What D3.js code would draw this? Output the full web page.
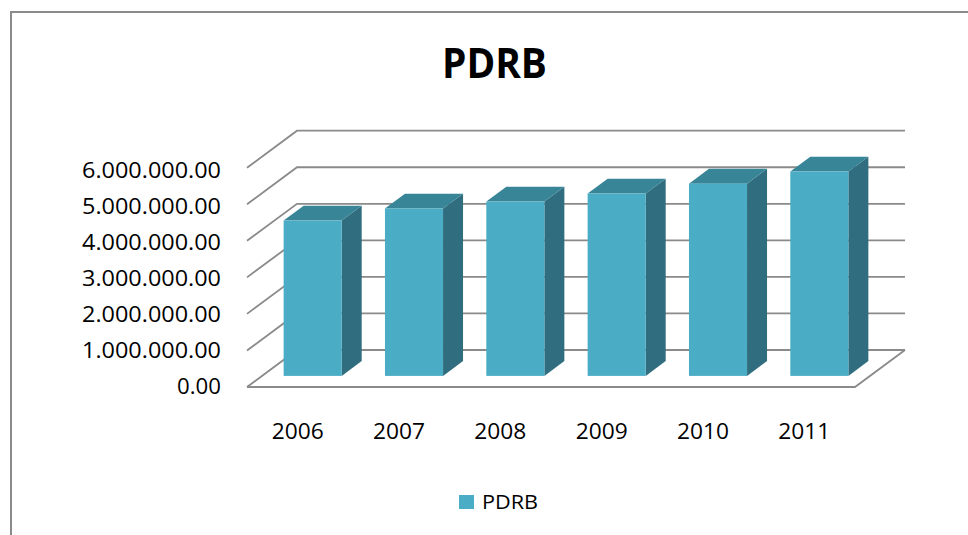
<!DOCTYPE html>
<html>
<head>
<meta charset="utf-8">
<script src="https://cdn.jsdelivr.net/npm/d3@7"></script>
<style>
  html, body { margin: 0; padding: 0; background: #fff; }
  svg { display: block; }
  text { font-family: "Open Sans", "Liberation Sans", sans-serif; fill: #000; }
</style>
</head>
<body>
<svg id="chart" width="968" height="535"></svg>
<script>
// ---- data ----
const categories = ["2006", "2007", "2008", "2009", "2010", "2011"];
const pdrbValues = [4250000, 4580000, 4770000, 4990000, 5260000, 5590000];
const tickValues = [0, 1000000, 2000000, 3000000, 4000000, 5000000, 6000000];
const tickLabels = ["0.00", "1.000.000.00", "2.000.000.00", "3.000.000.00", "4.000.000.00", "5.000.000.00", "6.000.000.00"];
const seriesName = "PDRB";
const titleText = "PDRB";

// ---- layout ----
const W = 968, H = 535;
const floorLeft = 247, floorRight = 855, floorFront = 387;
const depth = { dx: 50, dy: -37 };          // oblique depth vector of the plot box
const barDepthStart = 0.3, barDepthEnd = 0.7; // bar position inside the depth
const barWidthRatio = 0.573;

const colors = {
  front: "#4BACC6",
  top: "#388598",
  side: "#306D7E",
  grid: "#8a8a8a",
  frame: "#8a8a8a"
};

const svg = d3.select("#chart");

// frame
svg.append("rect")
  .attr("x", 11).attr("y", 12)
  .attr("width", 1000).attr("height", 600)
  .attr("fill", "#fff")
  .attr("stroke", colors.frame).attr("stroke-width", 2);

// scales
const y = d3.scaleLinear().domain([0, 6000000]).range([floorFront, 167.7]);
const yLabel = d3.scaleLinear().domain([0, 6000000]).range([394.3, 178.3]);
const x = d3.scaleBand().domain(categories).range([floorLeft, floorRight]).padding(0);

// ---- gridlines (left wall + back wall) ----
const grid = svg.append("g").attr("fill", "none")
  .attr("stroke", colors.grid).attr("stroke-width", 1.8);

tickValues.forEach(v => {
  const p = d3.path();
  p.moveTo(floorLeft, y(v));
  p.lineTo(floorLeft + depth.dx, y(v) + depth.dy);
  p.lineTo(floorRight + depth.dx, y(v) + depth.dy);
  grid.append("path").attr("d", p.toString());
});
// floor front + right edge
{
  const p = d3.path();
  p.moveTo(floorLeft, y(0));
  p.lineTo(floorRight, y(0));
  p.lineTo(floorRight + depth.dx, y(0) + depth.dy);
  grid.append("path").attr("d", p.toString());
}

// ---- bars ----
const bw = x.bandwidth() * barWidthRatio;
const fdx = depth.dx * barDepthStart, fdy = depth.dy * barDepthStart;
const bdx = depth.dx * (barDepthEnd - barDepthStart), bdy = depth.dy * (barDepthEnd - barDepthStart);

const bars = svg.append("g");
categories.forEach((c, i) => {
  const v = pdrbValues[i];
  const cx = x(c) + x.bandwidth() / 2 + fdx;
  const x0 = cx - bw / 2, x1 = cx + bw / 2;
  const yb = y(0) + fdy, yt = y(v) + fdy;
  const g = bars.append("g");
  // side
  g.append("path")
    .attr("d", `M${x1},${yb} L${x1 + bdx},${yb + bdy} L${x1 + bdx},${yt + bdy} L${x1},${yt} Z`)
    .attr("fill", colors.side);
  // top
  g.append("path")
    .attr("d", `M${x0},${yt} L${x1},${yt} L${x1 + bdx},${yt + bdy} L${x0 + bdx},${yt + bdy} Z`)
    .attr("fill", colors.top);
  // front
  g.append("rect")
    .attr("x", x0).attr("y", yt)
    .attr("width", bw).attr("height", yb - yt)
    .attr("fill", colors.front);
});

// ---- y axis labels ----
svg.append("g").selectAll("text")
  .data(tickValues)
  .join("text")
  .attr("x", 221)
  .attr("y", d => yLabel(d))
  .attr("text-anchor", "end")
  .attr("font-size", 21)
  .attr("textLength", (d, i) => tickLabels[i].length > 4 ? 139 : 44)
  .attr("lengthAdjust", "spacingAndGlyphs")
  .text((d, i) => tickLabels[i]);

// ---- category labels ----
svg.append("g").selectAll("text")
  .data(categories)
  .join("text")
  .attr("x", d => x(d) + x.bandwidth() / 2)
  .attr("y", 438.5)
  .attr("text-anchor", "middle")
  .attr("font-size", 22)
  .attr("textLength", 52)
  .attr("lengthAdjust", "spacingAndGlyphs")
  .text(d => d);

// ---- title ----
svg.append("text")
  .attr("x", 494.5).attr("y", 78)
  .attr("text-anchor", "middle")
  .attr("font-size", 42).attr("font-weight", "bold")
  .attr("textLength", 105)
  .attr("lengthAdjust", "spacingAndGlyphs")
  .text(titleText);

// ---- legend ----
const lg = svg.append("g");
lg.append("rect")
  .attr("x", 459).attr("y", 495)
  .attr("width", 15).attr("height", 14)
  .attr("fill", colors.front);
lg.append("text")
  .attr("x", 482).attr("y", 509)
  .attr("font-size", 20)
  .attr("textLength", 56)
  .attr("lengthAdjust", "spacingAndGlyphs")
  .text(seriesName);
</script>
</body>
</html>
